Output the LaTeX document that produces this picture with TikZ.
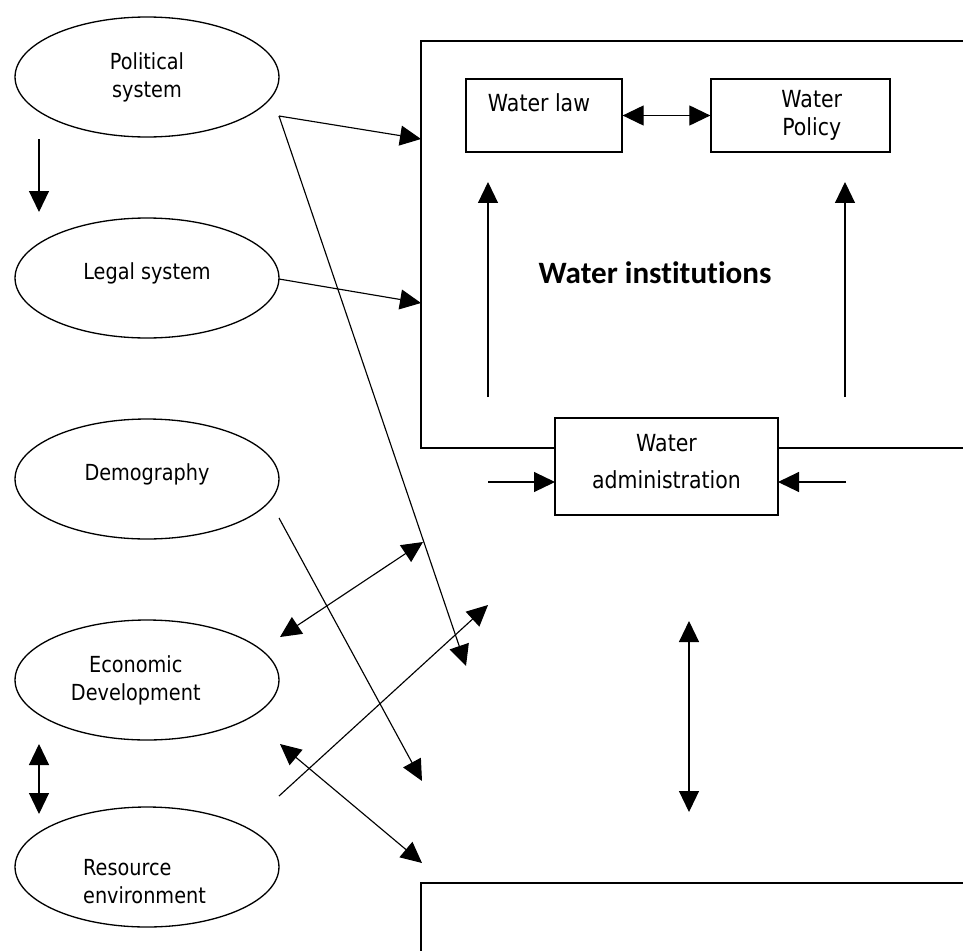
\documentclass[tikz,border=0pt]{standalone}
\usepackage{fontspec}
\setmainfont[FakeStretch=0.87]{DejaVu Sans}
\newfontfamily\instfont[Ligatures={NoCommon}]{Carlito}
\usetikzlibrary{arrows.meta,shapes.geometric}

\begin{document}
\begin{tikzpicture}[x=0.02cm, y=-0.02cm, line width=0.65pt,
    >={Triangle[length=0.42cm,width=0.4cm]},
    sys node/.style={ellipse, draw, line width=0.75pt, minimum width=5.28cm, minimum height=2.4cm, inner sep=0pt, font=\fontsize{12.6}{16}\selectfont},
    box node/.style={rectangle, draw, line width=0.75pt, fill=white, inner sep=0pt, font=\fontsize{13.4}{16}\selectfont}]

    \useasboundingbox (0,0) rectangle (963,950);

    % Outer frames
    \draw[line width=0.75pt] (421,41) rectangle (990,448);
    \draw[line width=0.75pt] (421,883) rectangle (990,990);
    \node[font=\instfont\bfseries\fontsize{17.7}{20}\selectfont] (inst) at (655,273) {Water institutions};

    % Systems on the left
    \node[sys node, align=center] (pol) at (147,77) {Political\\system};
    \node[sys node, text depth=8pt] (leg) at (147,278) {Legal system};
    \node[sys node, text depth=8pt] (dem) at (147,479) {Demography};
    \node[sys node, align=center] (eco) at (147,680) {\hspace*{-0.45cm}Economic\\\hspace*{-0.45cm}Development};
    \node[sys node, align=left] (res) at (147,867) {\rule{0pt}{26pt}\hspace*{-0.1cm}Resource\\\hspace*{-0.1cm}environment};

    % Boxes
    \node[box node, minimum width=3.12cm, minimum height=1.46cm, text height=9pt, text depth=14pt] (law) at (544,115.5) {\hspace*{-0.2cm}Water law};
    \node[box node, minimum width=3.58cm, minimum height=1.46cm, align=center] (policy) at (800.5,115.5) {\hspace*{0.45cm}Water\\\hspace*{0.45cm}Policy};
    \node[box node, minimum width=4.46cm, minimum height=1.94cm, align=center, font=\fontsize{13.4}{21}\selectfont] (admin) at (666.5,466.5) {Water\\administration\rule[-6pt]{0pt}{6pt}};

    % Free ends
    \coordinate (pol-s) at (39,139);
    \coordinate (leg-n) at (39,212);
    \coordinate (pol-e) at (279,116);
    \coordinate (pol-in) at (421,139);
    \coordinate (pol-far) at (466,666);
    \coordinate (leg-e) at (279,279);
    \coordinate (leg-in) at (421,303);
    \coordinate (dem-e) at (279,518);
    \coordinate (dem-far) at (422,781);
    \coordinate (eco-ne) at (280,637);
    \coordinate (eco-far) at (423,542);
    \coordinate (eco-se) at (280,744);
    \coordinate (eco-low) at (422,863);
    \coordinate (eco-s) at (39,744);
    \coordinate (res-n) at (39,814);
    \coordinate (res-e) at (279,796);
    \coordinate (res-far) at (488,605);
    \coordinate (law-up) at (488,397);
    \coordinate (law-tip) at (488,182);
    \coordinate (pol-up) at (845,397);
    \coordinate (pol-tip) at (845,182);
    \coordinate (adm-l) at (488,482);
    \coordinate (adm-lt) at (555,482);
    \coordinate (adm-r) at (846,482);
    \coordinate (adm-rt) at (778,482);
    \coordinate (mid-a) at (689,621);
    \coordinate (mid-b) at (689,812);

    % Arrows
    \draw[->] (pol-s) -- (leg-n);
    \draw[->] (pol-e) -- (pol-in);
    \draw[->] (pol-e) -- (pol-far);
    \draw[->] (leg-e) -- (leg-in);
    \draw[->] (dem-e) -- (dem-far);
    \draw[<->] (eco-ne) -- (eco-far);
    \draw[<->] (eco-se) -- (eco-low);
    \draw[<->] (eco-s) -- (res-n);
    \draw[->] (res-e) -- (res-far);
    \draw[<->] (law) -- (policy);
    \draw[->] (law-up) -- (law-tip);
    \draw[->] (pol-up) -- (pol-tip);
    \draw[->] (adm-l) -- (adm-lt);
    \draw[->] (adm-r) -- (adm-rt);
    \draw[<->] (mid-a) -- (mid-b);

\end{tikzpicture}
\end{document}
